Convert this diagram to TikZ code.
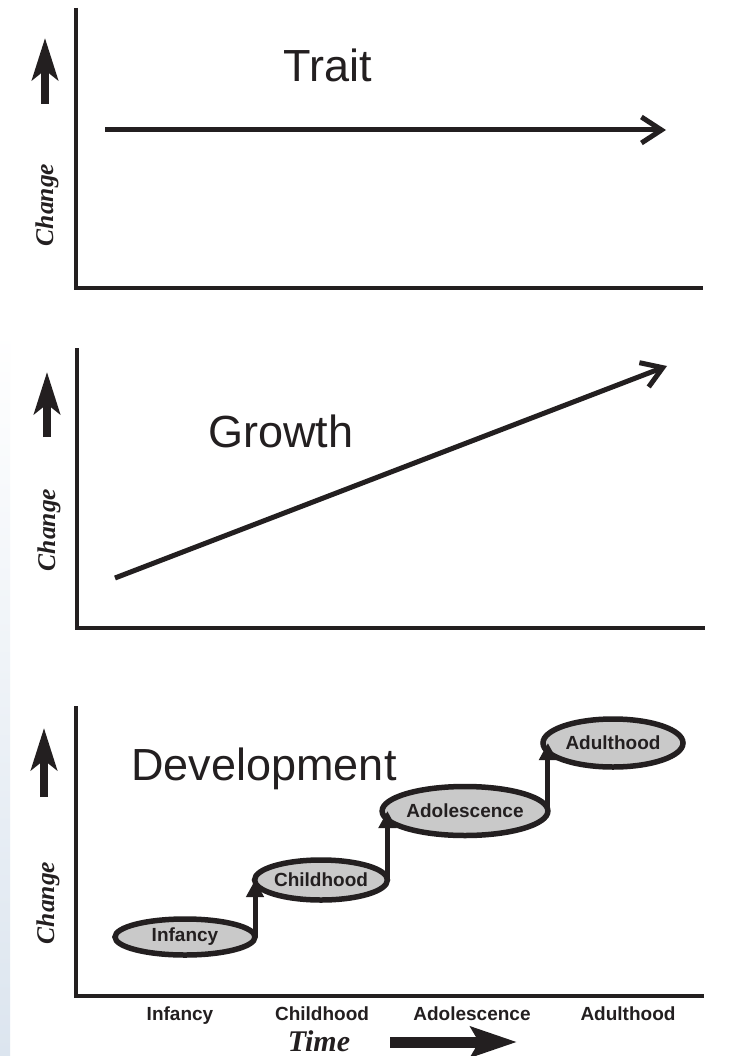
\documentclass[tikz,border=0pt]{standalone}
\usepackage{fontspec}
\setmainfont{Liberation Serif}
\setsansfont{Liberation Sans}
\usetikzlibrary{arrows.meta,shapes.geometric}
\definecolor{ink}{HTML}{231F20}
\definecolor{stagefill}{HTML}{C9C9C9}
\definecolor{edgeblue}{HTML}{DCE5EF}
\tikzset{
  axis/.style={draw=ink, line width=4pt, line cap=butt, line join=miter},
  chevronarrow/.style={draw=ink, line width=5pt, -{Straight Barb[length=20pt,width=26pt,line width=5pt]}},
  uparrow/.style={draw=ink, line width=7.5pt, -{Stealth[length=42pt,width=26pt,inset=10pt]}},
  timearrow/.style={draw=ink, line width=11pt, -{Stealth[length=46pt,width=30pt,inset=8pt]}},
  steparrow/.style={draw=ink, line width=5pt, -{Triangle[length=17pt,width=17pt]}},
  changelabel/.style={rotate=90, text=ink, font=\fontsize{25.5}{25.5}\selectfont\bfseries\itshape, inner sep=0pt},
  title/.style={text=ink, font=\sffamily\fontsize{45}{45}\selectfont, anchor=base, inner sep=0pt},
  stage/.style={ellipse, draw=ink, fill=stagefill, line width=5.5pt, inner sep=0pt, outer sep=0pt,
     text=ink, font=\sffamily\bfseries\fontsize{19}{19}\selectfont},
  ticklabel/.style={text=ink, font=\sffamily\bfseries\fontsize{19}{19}\selectfont, anchor=base, inner sep=0pt},
  timelabel/.style={text=ink, font=\fontsize{30}{30}\selectfont\bfseries\itshape, anchor=base, inner sep=0pt},
}
\begin{document}
\begin{tikzpicture}[x=1pt,y=-1pt]
\useasboundingbox (0,0) rectangle (732,1056);
\fill[white] (0,0) rectangle (732,1056);
\shade[top color=white, bottom color=edgeblue] (0,330) rectangle (10,1056);

% ---------- Panel 1: Trait ----------
\coordinate (o1) at (76,288);
\coordinate (t1) at (76,8);
\coordinate (r1) at (703,288);
\draw[axis] (t1) -- (o1) -- (r1);
\coordinate (u1a) at (45,104);
\coordinate (u1b) at (45,38);
\draw[uparrow] (u1a) -- (u1b);
\node[changelabel] (c1) at (47,205) {Change};
\node[title] (trait) at (328,82) {Trait};
\coordinate (tr1) at (105,130);
\coordinate (tr2) at (666,130);
\draw[chevronarrow] (tr1) -- (tr2);

% ---------- Panel 2: Growth ----------
\coordinate (o2) at (77,628);
\coordinate (t2) at (77,348);
\coordinate (r2) at (705,628);
\draw[axis] (t2) -- (o2) -- (r2);
\coordinate (u2a) at (47,437);
\coordinate (u2b) at (47,372);
\draw[uparrow] (u2a) -- (u2b);
\node[changelabel] (c2) at (49,530) {Change};
\node[title] (growth) at (281,447) {Growth};
\coordinate (g1) at (115,578);
\coordinate (g2) at (667,366);
\draw[chevronarrow] (g1) -- (g2);

% ---------- Panel 3: Development ----------
\coordinate (o3) at (76,996);
\coordinate (t3) at (76,706);
\coordinate (r3) at (704,996);
\draw[axis] (t3) -- (o3) -- (r3);
\coordinate (u3a) at (44,797);
\coordinate (u3b) at (44,728);
\draw[uparrow] (u3a) -- (u3b);
\node[changelabel] (c3) at (48,903) {Change};
\node[title] (dev) at (264,780) {Development};

\node[stage, minimum width=140pt, minimum height=36pt] (inf) at (185,937) {Infancy};
\node[stage, minimum width=132pt, minimum height=40pt] (chi) at (321,880) {Childhood};
\node[stage, minimum width=156pt, minimum height=49pt] (ado) at (465,811) {Adolescence};
\node[stage, minimum width=140pt, minimum height=48pt] (adu) at (613,743) {Adulthood};

\draw[steparrow] (inf.east) -- (inf.east |- chi.west);
\draw[steparrow] (chi.east) -- (chi.east |- ado.west);
\draw[steparrow] (ado.east) -- (ado.east |- adu.west);

\node[ticklabel] (x1) at (180,1020) {Infancy};
\node[ticklabel] (x2) at (322,1020) {Childhood};
\node[ticklabel] (x3) at (472,1020) {Adolescence};
\node[ticklabel] (x4) at (628,1020) {Adulthood};

\node[timelabel] (time) at (319,1051) {Time};
\coordinate (ta) at (390,1042);
\coordinate (tb) at (517,1042);
\draw[timearrow] (ta) -- (tb);
\end{tikzpicture}
\end{document}
